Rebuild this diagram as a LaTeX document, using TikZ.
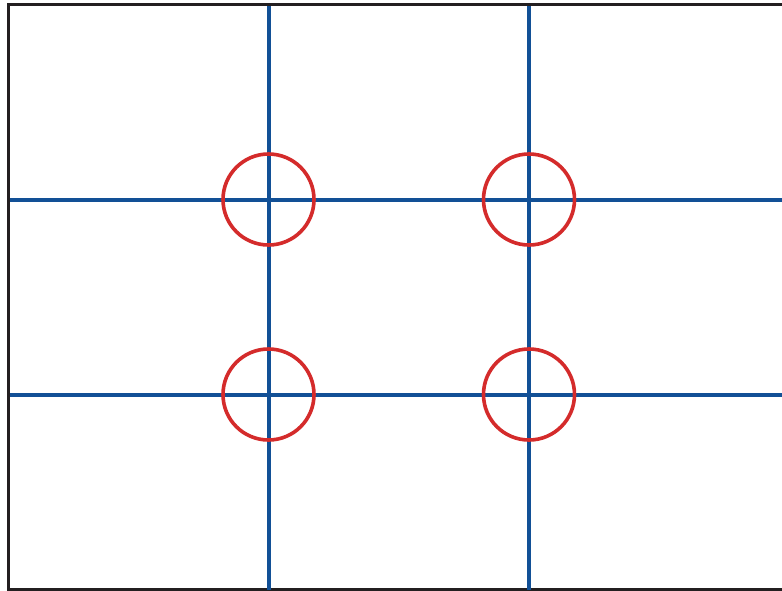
\documentclass[tikz,border=0pt]{standalone}
\begin{document}
\begin{tikzpicture}[x=1pt,y=-1pt,
  frame/.style={draw={rgb,255:red,35;green,31;blue,32},line width=3.2pt},
  grid/.style={draw={rgb,255:red,18;green,80;blue,150},line width=4pt},
  focus/.style={draw={rgb,255:red,212;green,43;blue,43},line width=3.6pt}]
\useasboundingbox (0,0) rectangle (782,590);
\fill[white] (0,0) rectangle (782,590);
\coordinate (tl) at (8.5,4.5);
\coordinate (tr) at (790,4.5);
\coordinate (bl) at (8.5,589.5);
\coordinate (br) at (790,589.5);
\draw[frame] (tr) -- (tl) -- (bl) -- (br);
\coordinate (v1t) at (268.5,6); \coordinate (v1b) at (268.5,590);
\coordinate (v2t) at (529,6); \coordinate (v2b) at (529,590);
\coordinate (h1l) at (10,199.5); \coordinate (h1r) at (782,199.5);
\coordinate (h2l) at (10,394.5); \coordinate (h2r) at (782,394.5);
\draw[grid] (v1t) -- (v1b);
\draw[grid] (v2t) -- (v2b);
\draw[grid] (h1l) -- (h1r);
\draw[grid] (h2l) -- (h2r);
\node[focus,circle,minimum size=91pt,inner sep=0pt] (c1) at (268.5,199.5) {};
\node[focus,circle,minimum size=91pt,inner sep=0pt] (c2) at (529,199.5) {};
\node[focus,circle,minimum size=91pt,inner sep=0pt] (c3) at (268.5,394.5) {};
\node[focus,circle,minimum size=91pt,inner sep=0pt] (c4) at (529,394.5) {};
\end{tikzpicture}
\end{document}
